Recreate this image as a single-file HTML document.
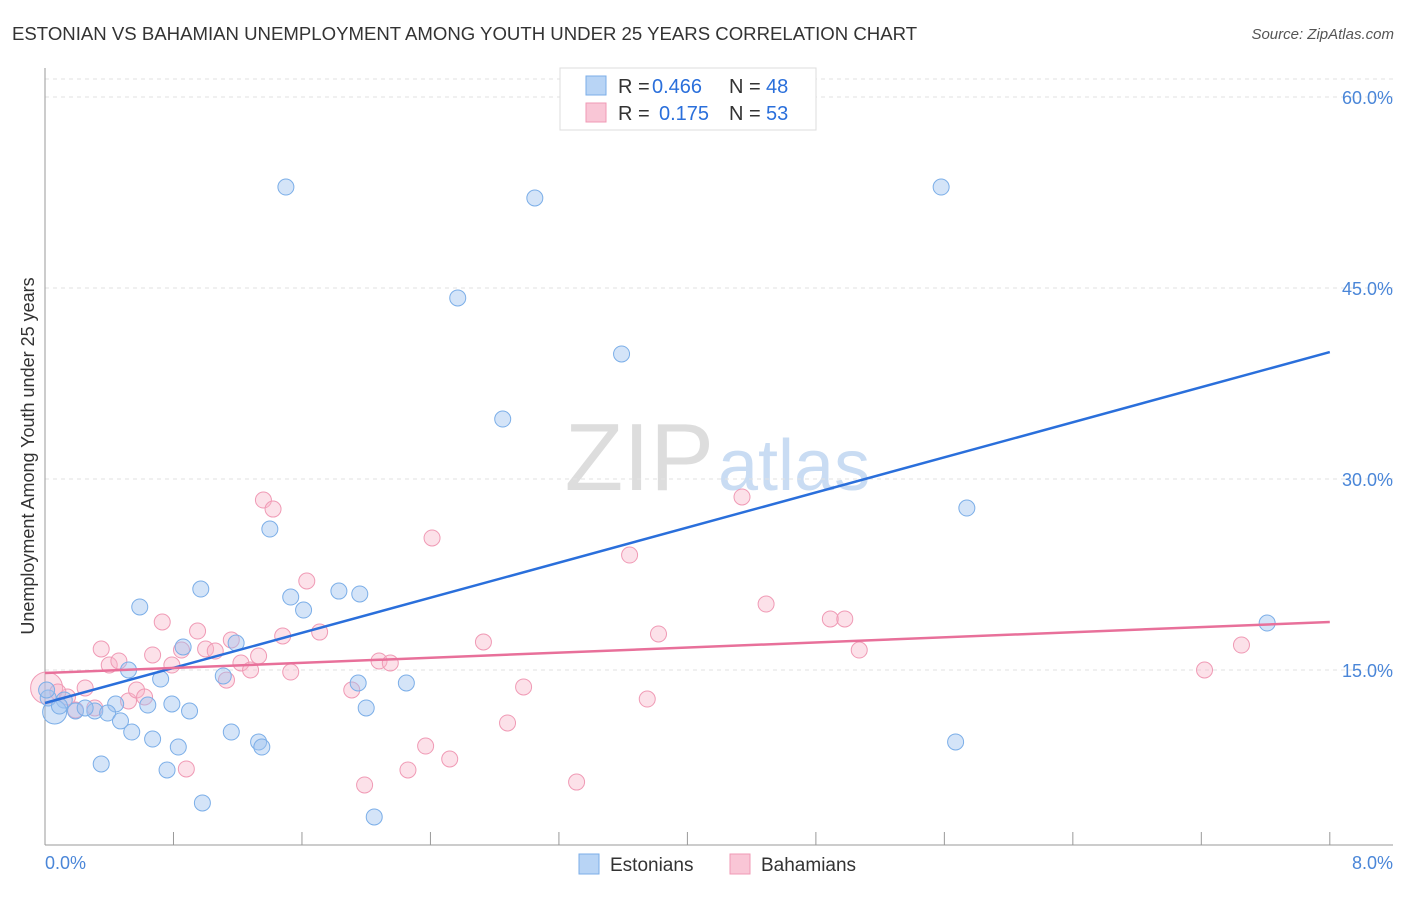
<!DOCTYPE html>
<html><head><meta charset="utf-8"><style>
body{margin:0;background:#fff;font-family:"Liberation Sans",sans-serif;}
svg text{font-family:"Liberation Sans",sans-serif;}
</style></head><body>
<svg width="1406" height="892" viewBox="0 0 1406 892">
<text x="12" y="40" font-size="18.6" fill="#333">ESTONIAN VS BAHAMIAN UNEMPLOYMENT AMONG YOUTH UNDER 25 YEARS CORRELATION CHART</text>
<text x="1394" y="39" font-size="15" fill="#555" font-style="italic" text-anchor="end">Source: ZipAtlas.com</text>
<text x="714" y="490" font-size="96" fill="#ddd" font-family="Liberation Serif" text-anchor="end">ZIP</text>
<text x="718" y="490" font-size="72" fill="#c9dcf3">atlas</text>
<g id="grid"></g>
<g id="axes"></g>
<g id="pts"></g>
<g id="lines"></g>
<text transform="translate(34,456) rotate(-90)" font-size="18" fill="#333" text-anchor="middle">Unemployment Among Youth under 25 years</text>
<text x="45" y="869" font-size="18" fill="#4a86d8">0.0%</text>
<text x="1393" y="869" font-size="18" fill="#4a86d8" text-anchor="end">8.0%</text>
<g>
<rect x="560" y="68" width="256" height="62" fill="#fff" stroke="#ddd"/>
<rect x="586" y="76" width="20" height="19" fill="#b8d4f5" stroke="#7baee8"/>
<rect x="586" y="103" width="20" height="19" fill="#f9c6d6" stroke="#f09ab5"/>
<text x="618" y="93" font-size="20" fill="#333">R =</text>
<text x="652" y="93" font-size="20" fill="#2a6fdb">0.466</text>
<text x="729" y="93" font-size="20" fill="#333">N =</text>
<text x="766" y="93" font-size="20" fill="#2a6fdb">48</text>
<text x="618" y="120" font-size="20" fill="#333">R =</text>
<text x="659" y="120" font-size="20" fill="#2a6fdb">0.175</text>
<text x="729" y="120" font-size="20" fill="#333">N =</text>
<text x="766" y="120" font-size="20" fill="#2a6fdb">53</text>
</g>
<g>
<rect x="579" y="854" width="20" height="20" fill="#b8d4f5" stroke="#7baee8"/>
<text x="610" y="871" font-size="19" fill="#333">Estonians</text>
<rect x="730" y="854" width="20" height="20" fill="#f9c6d6" stroke="#f09ab5"/>
<text x="761" y="871" font-size="19" fill="#333">Bahamians</text>
</g>
</svg>
<script>
const yTicks=[15,30,45,60];
const blueX=[1.50,3.05,5.58,2.57,3.59,2.85,5.74,1.40,0.97,0.59,1.53,1.61,1.83,1.96,0.86,1.19,0.52,0.72,1.11,1.95,2.25,0.44,0.64,0.79,0.90,2.00,0.12,0.19,0.31,0.39,0.06,0.02,0.47,0.54,0.67,0.83,1.16,1.33,1.35,0.35,0.76,0.98,2.05,5.67,7.61,0.01,0.09,0.25];
const blueY=[52.93,52.07,52.93,44.22,39.82,34.71,27.72,26.07,21.36,19.95,20.73,19.71,21.20,20.97,16.81,17.12,15.00,14.29,14.53,13.98,13.98,12.33,12.25,12.33,11.78,12.02,12.64,11.78,11.78,11.62,11.70,12.80,11.00,10.13,9.58,8.95,10.13,9.35,8.95,7.62,7.15,4.56,3.46,9.35,18.69,13.43,12.17,12.02];
const pinkX=[0.01,0.14,0.25,0.35,0.40,0.46,0.52,0.57,0.62,0.67,0.73,0.79,0.85,0.95,1.00,1.06,1.13,1.16,1.22,1.28,1.33,1.36,1.42,1.48,1.53,1.63,1.71,1.91,1.99,2.08,2.15,2.26,2.37,2.41,2.52,2.73,2.88,2.98,3.31,3.64,3.75,3.82,4.34,4.49,4.89,4.98,5.07,7.22,7.45,0.88,0.19,0.31,0.08];
const pinkY=[13.59,12.88,13.59,16.65,15.39,15.71,12.57,13.43,12.88,16.18,18.77,15.39,16.57,18.06,16.65,16.49,14.21,17.36,15.55,15.00,16.10,28.35,27.64,17.67,14.84,21.99,17.98,13.43,5.97,15.71,15.55,7.15,9.03,25.37,8.01,17.20,10.84,13.67,6.20,24.03,12.72,17.83,28.59,20.18,19.01,19.01,16.57,15.00,16.96,7.23,11.86,12.02,13.27];
const blueTrend=[12.41,39.97];
const pinkTrend=[14.76,18.77];
const X=v=>45+v*160.6, Y=v=>861-v*12.733;
const NS='http://www.w3.org/2000/svg';
function mk(t,a,p){const e=document.createElementNS(NS,t);for(const k in a)e.setAttribute(k,a[k]);p.appendChild(e);return e;}
const grid=document.getElementById('grid'),axes=document.getElementById('axes'),pts=document.getElementById('pts'),lines=document.getElementById('lines');
yTicks.forEach(t=>{
 const l=mk('line',{x1:45,x2:1393,y1:Y(t),y2:Y(t),stroke:'#e2e2e2','stroke-dasharray':'4,4'},grid);
 
 
 const tx=mk('text',{x:1393,y:Y(t)+7,'font-size':18,fill:'#4a86d8','text-anchor':'end'},grid);
 tx.textContent=t.toFixed(1)+'%';
 
 
});
const topLine=mk('line',{x1:45,x2:1393,y1:79,y2:79,stroke:'#e2e2e2','stroke-dasharray':'4,4'},grid);


const ya=mk('line',{x1:45,x2:45,y1:68,y2:845,stroke:'#999'},axes);


const xa=mk('line',{x1:45,x2:1393,y1:845,y2:845,stroke:'#999'},axes);


for(let i=1;i<=10;i++){const tk=mk('line',{x1:X(i*0.8),x2:X(i*0.8),y1:832,y2:845,stroke:'#999'},axes);
 
 }
function dots(xs,ys,fill,stroke,name,bigIdx,bigR){
 xs.forEach((x,i)=>{const c=mk('circle',{cx:X(x),cy:Y(ys[i]),r:i===bigIdx?bigR:8,fill:fill,stroke:stroke,'stroke-width':1},pts);
 
 });
}
dots(pinkX,pinkY,'rgba(248,180,200,0.4)','#f09ab5','bahamian-point',0,16);
dots(blueX,blueY,'rgba(160,196,240,0.45)','#7baee8','estonian-point',30,12);
const bl=mk('line',{x1:X(0),y1:Y(blueTrend[0]),x2:X(8),y2:Y(blueTrend[1]),stroke:'#2a6fdb','stroke-width':2.5},lines);


const pl=mk('line',{x1:X(0),y1:Y(pinkTrend[0]),x2:X(8),y2:Y(pinkTrend[1]),stroke:'#e8709a','stroke-width':2.5},lines);


</script>
</body></html>
